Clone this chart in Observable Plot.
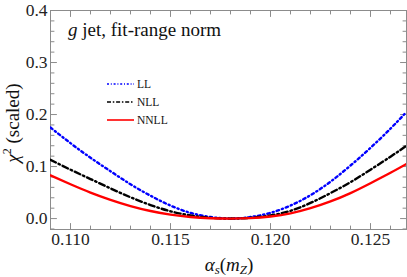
<!DOCTYPE html>
<html>
<head>
<meta charset="utf-8">
<script src="https://cdn.jsdelivr.net/npm/d3@7"></script>
<script src="https://cdn.jsdelivr.net/npm/@observablehq/plot@0.6"></script>
<style>
  html, body { margin: 0; padding: 0; background: #fff; }
  #chart { position: relative; width: 407px; height: 277px; }
  #chart svg text, #chart svg tspan { font-family: "Liberation Serif", "Times New Roman", Tinos, "DejaVu Serif", "Noto Serif", serif; }
</style>
</head>
<body>
<div id="chart"></div>
<script>
// ---- data ----
const alphaS = [0.109, 0.110, 0.111, 0.112, 0.113, 0.114, 0.115, 0.116, 0.117, 0.118,
                0.119, 0.120, 0.121, 0.122, 0.123, 0.124, 0.125, 0.126, 0.1268];
const chiLL   = [0.175, 0.145, 0.117, 0.091, 0.066, 0.044, 0.025, 0.011, 0.003, 0.000,
                 0.003, 0.011, 0.025, 0.045, 0.071, 0.102, 0.136, 0.173, 0.205];
const chiNLL  = [0.113, 0.094, 0.076, 0.058, 0.041, 0.026, 0.014, 0.006, 0.0015, 0.000,
                 0.0015, 0.006, 0.015, 0.030, 0.049, 0.070, 0.094, 0.119, 0.140];
const chiNNLL = [0.083, 0.066, 0.050, 0.036, 0.024, 0.0145, 0.0075, 0.003, 0.0007, 0.000,
                 0.0008, 0.004, 0.010, 0.020, 0.033, 0.049, 0.068, 0.088, 0.105];
const seriesNames = ["LL", "NLL", "NNLL"];
const xTicks = [0.110, 0.115, 0.120, 0.125];
const yTicks = [0.0, 0.1, 0.2, 0.3, 0.4];
const xDomain = [0.109, 0.1268];
const yDomain = [-0.021, 0.4];

// ---- styles ----
const colors = {LL: "#0000ff", NLL: "#000000", NNLL: "#ff0000"};
const dashes = {LL: "2.5,3,1.2,3", NLL: "6,3,1.5,3", NNLL: null};
const legendDashes = {LL: "2,1.8,1,1.8", NLL: "4,1.8,1.5,1.8", NNLL: null};
const serif = "Liberation Serif, Times New Roman, Tinos, DejaVu Serif, Noto Serif, serif";

const table = [];
[chiLL, chiNLL, chiNNLL].forEach((arr, i) => {
  arr.forEach((v, j) => table.push({series: seriesNames[i], a: alphaS[j], chi: v}));
});

const xMinor = d3.range(110, 127).map(d => d / 1000).filter(d => !xTicks.some(t => Math.abs(t - d) < 1e-9));
const yMinor = d3.range(-1, 21).map(d => d * 0.02).filter(d => !yTicks.some(t => Math.abs(t - d) < 1e-9));

const tickShape = {draw(ctx, l) { ctx.moveTo(0, 0); ctx.lineTo(0, -l); }};
function ticks(data, anchor, len) {
  const opts = {frameAnchor: anchor, length: len, anchor: "start", shape: tickShape,
                stroke: "#8c8c8c", strokeWidth: 1};
  if (anchor === "bottom") return Plot.vector(data, {...opts, x: d => d, rotate: 0});
  if (anchor === "top") return Plot.vector(data, {...opts, x: d => d, rotate: 180});
  if (anchor === "left") return Plot.vector(data, {...opts, y: d => d, rotate: 90});
  return Plot.vector(data, {...opts, y: d => d, rotate: -90});
}

const marks = [
  Plot.frame({stroke: "#8c8c8c", strokeWidth: 1}),
  ticks(xTicks, "bottom", 6), ticks(xMinor, "bottom", 3.5),
  ticks(xTicks, "top", 6), ticks(xMinor, "top", 3.5),
  ticks(yTicks, "left", 6), ticks(yMinor, "left", 3.5),
  ticks(yTicks, "right", 6), ticks(yMinor, "right", 3.5),
  Plot.axisX({ticks: xTicks, tickSize: 0, tickPadding: 3, tickFormat: d => d.toFixed(3),
              label: null, fontSize: 17.5, fill: "#222"}),
  Plot.axisY({ticks: yTicks, tickSize: 0, tickPadding: 3, tickFormat: d => d.toFixed(1),
              label: null, fontSize: 17.5, fill: "#222"})
];
for (const s of seriesNames) {
  marks.push(Plot.line(table.filter(d => d.series === s), {
    x: "a", y: "chi", curve: "natural",
    stroke: colors[s], strokeWidth: 2.4,
    strokeDasharray: dashes[s], clip: true
  }));
}

const plot = Plot.plot({
  width: 407, height: 277,
  marginLeft: 50, marginRight: 1, marginTop: 10, marginBottom: 48,
  x: {domain: xDomain}, y: {domain: yDomain},
  style: {fontFamily: serif, background: "#fff", overflow: "visible"},
  marks
});
document.getElementById("chart").appendChild(plot);

// ---- annotations: title, legend, axis labels ----
const svg = d3.select(plot);
const title = svg.append("text").attr("x", 68).attr("y", 36).attr("text-anchor", "start")
  .attr("font-family", serif).attr("font-size", 19).attr("fill", "#111");
title.append("tspan").attr("font-style", "italic").text("g");
title.append("tspan").text(" jet, fit-range norm");

const leg = svg.append("g").attr("font-family", serif).attr("font-size", 11.5)
  .attr("fill", "#111").attr("text-anchor", "start");
seriesNames.forEach((s, i) => {
  const y = 84 + i * 18;
  leg.append("line").attr("x1", 107).attr("x2", 134).attr("y1", y).attr("y2", y)
    .attr("stroke", colors[s]).attr("stroke-width", 1.6)
    .attr("stroke-dasharray", legendDashes[s]);
  leg.append("text").attr("x", 137).attr("y", y).attr("dy", "0.35em").text(s);
});

const yl = svg.append("text").attr("transform", "translate(19,123) rotate(-90)")
  .attr("text-anchor", "middle").attr("font-family", serif).attr("font-size", 19).attr("fill", "#111");
yl.append("tspan").attr("font-style", "italic").text("χ");
yl.append("tspan").attr("font-size", 12).attr("dy", -8).text("2");
yl.append("tspan").attr("dy", 8).text(" (scaled)");

const xl = svg.append("text").attr("x", 229).attr("y", 271)
  .attr("text-anchor", "middle").attr("font-family", serif).attr("font-size", 19).attr("fill", "#111");
xl.append("tspan").attr("font-style", "italic").text("α");
xl.append("tspan").attr("font-style", "italic").attr("font-size", 13).attr("dy", 3).text("s");
xl.append("tspan").attr("dy", -3).text("(");
xl.append("tspan").attr("font-style", "italic").text("m");
xl.append("tspan").attr("font-style", "italic").attr("font-size", 13).attr("dy", 3).text("Z");
xl.append("tspan").attr("dy", -3).text(")");
</script>
</body>
</html>
